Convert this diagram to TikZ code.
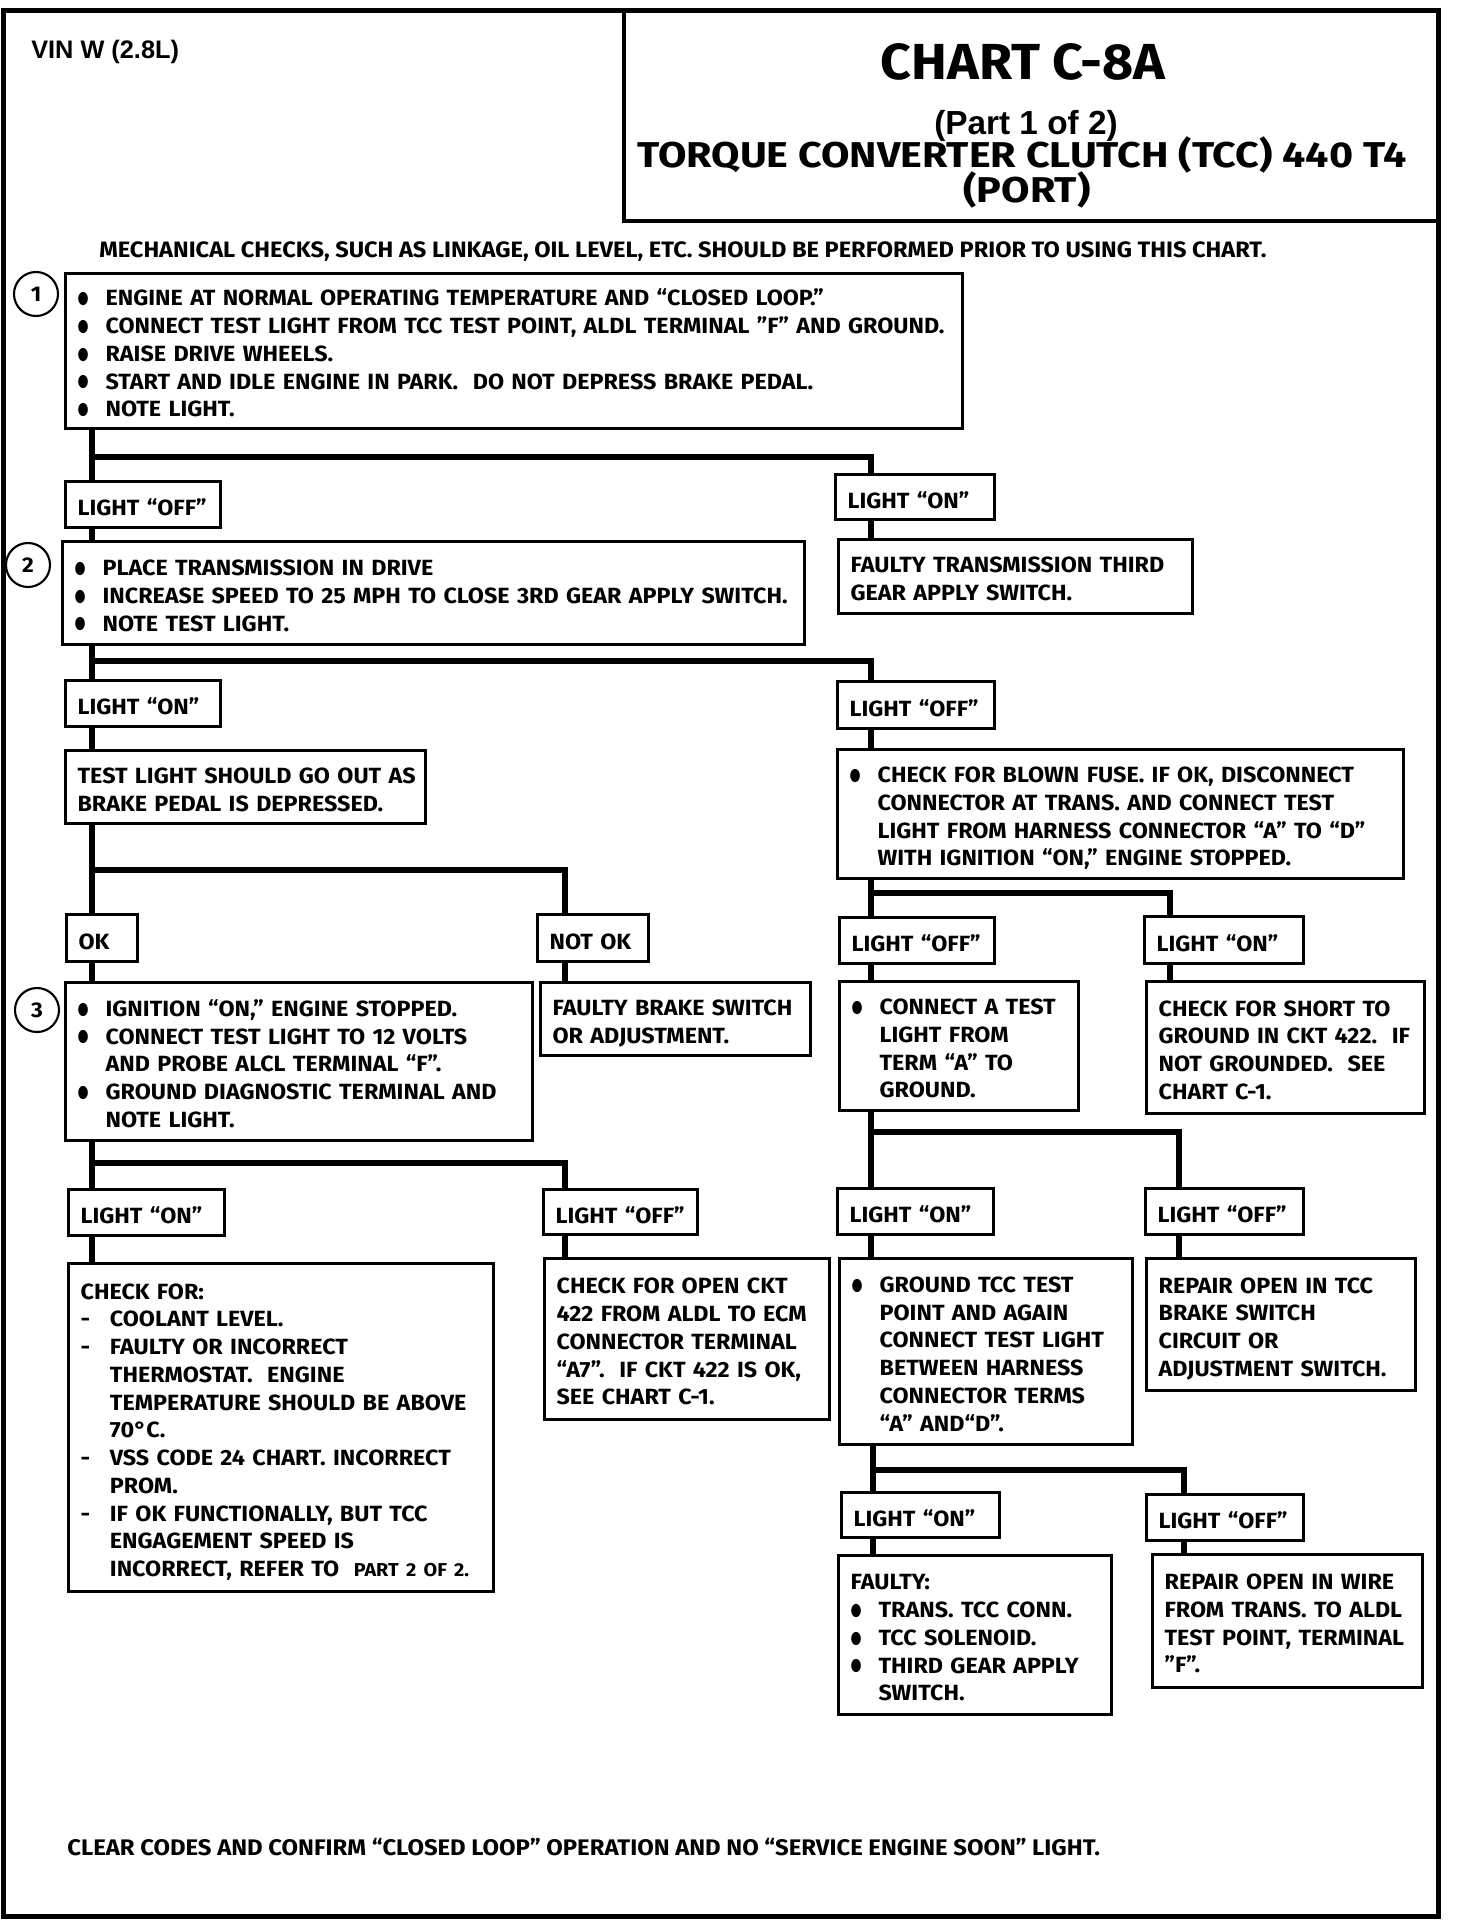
\documentclass[tikz,border=0pt]{standalone}
\usepackage{fontspec}
\setmainfont{Fira Sans}[FakeStretch=1.06]
\newfontfamily\titlef{Fira Sans}[FakeStretch=1.15]
\newfontfamily\arialf{Liberation Sans}
\newfontfamily\dejavu{DejaVu Sans}
\usetikzlibrary{calc}
\newcommand\bu{\makebox[21pt][l]{\raisebox{1.6pt}{\scalebox{0.95}[1.3]{\dejavu\fontsize{10}{10}\selectfont ●}}}}
\newcommand\da{\makebox[22pt][l]{-}}
\newcommand\ind{\hspace*{21pt}}
\newcommand\indd{\hspace*{22pt}}
% box: [options]{name}{x,y}{width}{height}{text}
\newcommand\bx[6][]{\node[box,minimum width={#4*0.75pt},minimum height={#5*0.75pt},text width={\dimexpr 0.75pt*#4-18pt\relax},#1] (#2) at (#3) {\raisebox{0pt}[\dimexpr\height+7pt\relax]{\begin{tabular}{@{}l@{}}#6\end{tabular}}};}
\newcommand\lb[6][]{\node[box,minimum width={#4*0.75pt},minimum height={#5*0.75pt},text width={\dimexpr 0.75pt*#4-18pt\relax},#1] (#2) at (#3) {\raisebox{0pt}[\dimexpr\height+8.5pt\relax]{\begin{tabular}{@{}l@{}}#6\end{tabular}}};}
\tikzset{
  box/.style={draw, line width=2.4pt, anchor=north west, align=left, inner xsep=9pt, inner ysep=0pt, font=\bfseries\fontsize{16.5}{20.8}\selectfont},
  conn/.style={line width=4.6pt, line join=miter},
  num/.style={draw, circle, line width=1.6pt, minimum size=33pt, inner sep=0pt, font=\fontsize{16}{16}\selectfont\bfseries},
  plain/.style={inner sep=0pt, font=\bfseries\fontsize{16.7}{18}\selectfont},
}
\begin{document}
\begin{tikzpicture}[x=0.75pt,y=-0.75pt]
\fill[white] (0,0) rectangle (1456,1922);
\useasboundingbox (0,0) rectangle (1456,1922);
% frame
\draw[line width=3.75pt] (3,11) rectangle (1438,1916);
\draw[line width=2.4pt] (624,11) rectangle (1438,221);
% title
\node[inner sep=0pt, anchor=base, font=\bfseries\fontsize{38}{40}\selectfont] (t1) at (1023,80) {CHART C-8A};
\node[inner sep=0pt, anchor=base, font=\arialf\bfseries\fontsize{25}{26}\selectfont] (t2) at (1026,135) {(Part 1 of 2)};
\node[inner sep=0pt, anchor=base, font=\titlef\bfseries\fontsize{26.9}{28}\selectfont] (t3) at (1022,168) {TORQUE CONVERTER CLUTCH (TCC) 440 T4};
\node[inner sep=0pt, anchor=base, font=\titlef\bfseries\fontsize{26.9}{28}\selectfont] (t4) at (1027,203) {(PORT)};
\node[inner sep=0pt, anchor=base west, font=\arialf\bfseries\fontsize{19}{20}\selectfont] (vin) at (31,59) {VIN W (2.8L)};
\node[plain, anchor=base west] (mech) at (99,258) {MECHANICAL CHECKS, SUCH AS LINKAGE, OIL LEVEL, ETC. SHOULD BE PERFORMED PRIOR TO USING THIS CHART.};
\node[plain, anchor=base west, font=\bfseries\fontsize{16.9}{18}\selectfont] (foot) at (67,1855) {CLEAR CODES AND CONFIRM “CLOSED LOOP” OPERATION AND NO “SERVICE ENGINE SOON” LIGHT.};
% step numbers
\node[num] (n1) at (36,294) {1};
\node[num] (n2) at (28,565) {2};
\node[num] (n3) at (37,1010) {3};
% boxes
\bx{box1}{64,272}{897}{155}{\bu ENGINE AT NORMAL OPERATING TEMPERATURE AND “CLOSED LOOP.”\\
\bu CONNECT TEST LIGHT FROM TCC TEST POINT, ALDL TERMINAL "F" AND GROUND.\\
\bu RAISE DRIVE WHEELS.\\
\bu START AND IDLE ENGINE IN PARK.\ \ DO NOT DEPRESS BRAKE PEDAL.\\
\bu NOTE LIGHT.}
\lb{off1}{64,480}{155}{46}{LIGHT “OFF”}
\lb{on1}{834,473}{159}{45}{LIGHT “ON”}
\bx{ft}{837,538}{354}{74}{FAULTY TRANSMISSION THIRD\\GEAR APPLY SWITCH.}
\bx{box2}{61,540}{742}{103}{\bu PLACE TRANSMISSION IN DRIVE\\
\bu INCREASE SPEED TO 25 MPH TO CLOSE 3RD GEAR APPLY SWITCH.\\
\bu NOTE TEST LIGHT.}
\lb{on2}{64,679}{155}{46}{LIGHT “ON”}
\lb{off2}{836,680}{157}{47}{LIGHT “OFF”}
\bx{tl}{64,749}{360}{73}{TEST LIGHT SHOULD GO OUT AS\\BRAKE PEDAL IS DEPRESSED.}
\bx{bf}{836,748}{566}{129}{\bu CHECK FOR BLOWN FUSE. IF OK, DISCONNECT\\
\ind CONNECTOR AT TRANS. AND CONNECT TEST\\
\ind LIGHT FROM HARNESS CONNECTOR “A” TO “D”\\
\ind WITH IGNITION “ON,” ENGINE STOPPED.}
\lb{ok}{65,913}{71}{47}{OK}
\lb{nok}{536,913}{111}{47}{NOT OK}
\bx{box3}{64,981}{467}{158}{\bu IGNITION “ON,” ENGINE STOPPED.\\
\bu CONNECT TEST LIGHT TO 12 VOLTS\\
\ind AND PROBE ALCL TERMINAL “F”.\\
\bu GROUND DIAGNOSTIC TERMINAL AND\\
\ind NOTE LIGHT.}
\bx{fb}{539,981}{270}{73}{FAULTY BRAKE SWITCH\\OR ADJUSTMENT.}
\lb{off3}{838,916}{155}{46}{LIGHT “OFF”}
\lb{on3}{1143,915}{159}{47}{LIGHT “ON”}
\bx{ct}{838,980}{239}{129}{\bu CONNECT A TEST\\
\ind LIGHT FROM\\
\ind TERM “A” TO\\
\ind GROUND.}
\bx{cs}{1145,980}{278}{132}{CHECK FOR SHORT TO\\
GROUND IN CKT 422.\ \ IF\\
NOT GROUNDED.\ \ SEE\\
CHART C-1.}
\lb{on4}{67,1188}{156}{46}{LIGHT “ON”}
\lb{off4}{542,1188}{154}{45}{LIGHT “OFF”}
\bx{cf}{67,1262}{425}{328}{CHECK FOR:\\
\da COOLANT LEVEL.\\
\da FAULTY OR INCORRECT\\
\indd THERMOSTAT.\ \ ENGINE\\
\indd TEMPERATURE SHOULD BE ABOVE\\
\indd 70°C.\\
\da VSS CODE 24 CHART. INCORRECT\\
\indd PROM.\\
\da IF OK FUNCTIONALLY, BUT TCC\\
\indd ENGAGEMENT SPEED IS\\
\indd INCORRECT, REFER TO\ \ {\fontsize{14}{14}\selectfont PART 2 OF 2.}}
\bx{co}{543,1257}{285}{161}{CHECK FOR OPEN CKT\\
422 FROM ALDL TO ECM\\
CONNECTOR TERMINAL\\
“A7”.\ \ IF CKT 422 IS OK,\\
SEE CHART C-1.}
\lb{on5}{836,1187}{156}{46}{LIGHT “ON”}
\lb{off5}{1144,1187}{158}{46}{LIGHT “OFF”}
\bx{gt}{838,1257}{293}{186}{\bu GROUND TCC TEST\\
\ind POINT AND AGAIN\\
\ind CONNECT TEST LIGHT\\
\ind BETWEEN HARNESS\\
\ind CONNECTOR TERMS\\
\ind “A” AND“D”.}
\bx{rt}{1145,1257}{269}{132}{REPAIR OPEN IN TCC\\
BRAKE SWITCH\\
CIRCUIT OR\\
ADJUSTMENT SWITCH.}
\lb{on6}{840,1491}{158}{45}{LIGHT “ON”}
\lb{off6}{1145,1493}{157}{46}{LIGHT “OFF”}
\bx{fy}{837,1554}{273}{159}{FAULTY:\\
\bu TRANS. TCC CONN.\\
\bu TCC SOLENOID.\\
\bu THIRD GEAR APPLY\\
\ind SWITCH.}
\bx{rw}{1151,1553}{270}{133}{REPAIR OPEN IN WIRE\\
FROM TRANS. TO ALDL\\
TEST POINT, TERMINAL\\
"F".}
% junction coordinates
\coordinate (j1) at (92,457);
\coordinate (j1r) at (871,457);
\coordinate (j2) at (92,661);
\coordinate (j2r) at (871,661);
\coordinate (j3) at (92,870);
\coordinate (j3r) at (565,870);
\coordinate (j4) at (871,893);
\coordinate (j4r) at (1170,893);
\coordinate (j5) at (92,1163);
\coordinate (j5r) at (565,1163);
\coordinate (j6) at (871,1132);
\coordinate (j6r) at (1179,1132);
\coordinate (j7) at (873,1470);
\coordinate (j7r) at (1184,1470);
% connectors
\draw[conn] (box1.south -| j1) -- (off1.north -| j1);
\draw[conn] (j1) -- (j1r) -- (on1.north -| j1r);
\draw[conn] (off1.south -| j1) -- (box2.north -| j1);
\draw[conn] (on1.south -| j1r) -- (ft.north -| j1r);
\draw[conn] (box2.south -| j2) -- (on2.north -| j2);
\draw[conn] (j2) -- (j2r) -- (off2.north -| j2r);
\draw[conn] (on2.south -| j2) -- (tl.north -| j2);
\draw[conn] (off2.south -| j2r) -- (bf.north -| j2r);
\draw[conn] (tl.south -| j3) -- (ok.north -| j3);
\draw[conn] (j3) -- (j3r) -- (nok.north -| j3r);
\draw[conn] (ok.south -| j3) -- (box3.north -| j3);
\draw[conn] (nok.south -| j3r) -- (fb.north -| j3r);
\draw[conn] (bf.south -| j4) -- (off3.north -| j4);
\draw[conn] (j4) -- (j4r) -- (on3.north -| j4r);
\draw[conn] (off3.south -| j4) -- (ct.north -| j4);
\draw[conn] (on3.south -| j4r) -- (cs.north -| j4r);
\draw[conn] (box3.south -| j5) -- (on4.north -| j5);
\draw[conn] (j5) -- (j5r) -- (off4.north -| j5r);
\draw[conn] (on4.south -| j5) -- (cf.north -| j5);
\draw[conn] (off4.south -| j5r) -- (co.north -| j5r);
\draw[conn] (ct.south -| j6) -- (on5.north -| j6);
\draw[conn] (j6) -- (j6r) -- (off5.north -| j6r);
\draw[conn] (on5.south -| j6) -- (gt.north -| j6);
\draw[conn] (off5.south -| j6r) -- (rt.north -| j6r);
\draw[conn] (gt.south -| j7) -- (on6.north -| j7);
\draw[conn] (j7) -- (j7r) -- (off6.north -| j7r);
\draw[conn] (on6.south -| j7) -- (fy.north -| j7);
\draw[conn] (off6.south -| j7r) -- (rw.north -| j7r);
\end{tikzpicture}
\end{document}
